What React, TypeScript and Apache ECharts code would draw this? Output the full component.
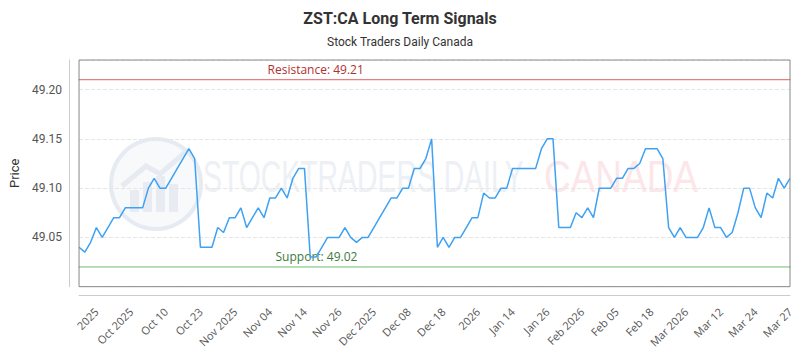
import React, { useEffect, useRef } from "react";
import * as echarts from "echarts";

const prices: number[] = [
  49.04, 49.035, 49.045, 49.06, 49.05, 49.06, 49.07, 49.07, 49.08, 49.08,
  49.08, 49.08, 49.10, 49.11, 49.10, 49.10, 49.11, 49.12, 49.13, 49.14,
  49.13, 49.04, 49.04, 49.04, 49.06, 49.055, 49.07, 49.07, 49.08, 49.06,
  49.07, 49.08, 49.07, 49.09, 49.09, 49.10, 49.09, 49.11, 49.12, 49.12,
  49.03, 49.03, 49.04, 49.05, 49.05, 49.05, 49.06, 49.05, 49.045, 49.05,
  49.05, 49.06, 49.07, 49.08, 49.09, 49.09, 49.10, 49.10, 49.12, 49.12,
  49.13, 49.15, 49.04, 49.05, 49.04, 49.05, 49.05, 49.06, 49.07, 49.07,
  49.095, 49.09, 49.09, 49.10, 49.10, 49.12, 49.12, 49.12, 49.12, 49.12,
  49.14, 49.15, 49.15, 49.06, 49.06, 49.06, 49.075, 49.07, 49.08, 49.07,
  49.10, 49.10, 49.10, 49.11, 49.11, 49.12, 49.12, 49.125, 49.14, 49.14,
  49.14, 49.13, 49.06, 49.05, 49.06, 49.05, 49.05, 49.05, 49.06, 49.08,
  49.06, 49.06, 49.05, 49.055, 49.075, 49.10, 49.10, 49.08, 49.07, 49.095,
  49.09, 49.11, 49.10, 49.11,
];

const tickLabels: string[] = [
  "2025", "Oct 2025", "Oct 10", "Oct 23", "Nov 2025", "Nov 04", "Nov 14",
  "Nov 26", "Dec 2025", "Dec 08", "Dec 18", "2026", "Jan 14", "Jan 26",
  "Feb 2026", "Feb 05", "Feb 18", "Mar 2026", "Mar 12", "Mar 24", "Mar 27",
];

const firstLabelIndex = 3;
const labelStep = 6;

const resistance = 49.21;
const support = 49.02;

const categories: string[] = prices.map((_, i) => "d" + i);

function levelSeries(value: number, text: string, lineColor: string, textColor: string, dx: number) {
  const last = prices.length - 1;
  return {
    type: "line",
    symbol: "circle",
    symbolSize: 1,
    showSymbol: true,
    silent: true,
    z: 2,
    lineStyle: { color: lineColor, width: 1, type: "solid" },
    itemStyle: { color: lineColor },
    data: [
      {
        value: [0, value],
        label: {
          show: true,
          position: "right",
          offset: [dx - 3, -10],
          formatter: text,
          color: textColor,
          fontSize: 12,
          fontFamily: "'Open Sans', sans-serif",
        },
      },
      { value: [last, value] },
    ],
  };
}

export default function App() {
  const ref = useRef<HTMLDivElement>(null);

  useEffect(() => {
    if (!ref.current) return;
    const chart = echarts.init(ref.current, undefined, { renderer: "svg" });
    const font = "Roboto, 'Noto Sans', sans-serif";
    chart.setOption({
      animation: false,
      backgroundColor: "#ffffff",
      textStyle: { fontFamily: font },
      title: {
        text: "ZST:CA Long Term Signals",
        subtext: "Stock Traders Daily Canada",
        left: "center",
        top: 5,
        itemGap: 10,
        textStyle: { fontSize: 16, fontWeight: "bold", color: "#333", fontFamily: font },
        subtextStyle: { fontSize: 12, color: "#333", fontFamily: font },
      },
      graphic: [
        {
          type: "circle",
          z: 0,
          silent: true,
          shape: { cx: 156, cy: 184, r: 45 },
          style: { fill: "#f7f9fb", stroke: "#e6eaf1", lineWidth: 4 },
        },
        { type: "rect", z: 0, silent: true, shape: { x: 130, y: 190, width: 9, height: 22 }, style: { fill: "#e8ecf2" } },
        { type: "rect", z: 0, silent: true, shape: { x: 143, y: 182, width: 9, height: 30 }, style: { fill: "#e8ecf2" } },
        { type: "rect", z: 0, silent: true, shape: { x: 156, y: 176, width: 9, height: 36 }, style: { fill: "#e8ecf2" } },
        { type: "rect", z: 0, silent: true, shape: { x: 169, y: 184, width: 9, height: 28 }, style: { fill: "#e8ecf2" } },
        {
          type: "polyline",
          z: 0,
          silent: true,
          shape: { points: [[122, 186], [146, 166], [160, 174], [188, 150]] },
          style: { stroke: "#e6eaf1", lineWidth: 5, fill: null },
        },
        {
          type: "text",
          z: 0,
          silent: true,
          x: 203,
          y: 177,
          scaleX: 0.645,
          style: {
            text: "STOCKTRADERS DAILY",
            fontSize: 44,
            fontFamily: "'Liberation Sans', Arial, sans-serif",
            fill: "#edf0f5",
            verticalAlign: "middle",
            align: "left",
          },
        },
        {
          type: "text",
          z: 0,
          silent: true,
          x: 544,
          y: 177,
          scaleX: 0.84,
          style: {
            text: "CANADA",
            fontSize: 44,
            fontFamily: "'Liberation Sans', Arial, sans-serif",
            fill: "#fce6e9",
            verticalAlign: "middle",
            align: "left",
          },
        },
      ],
      grid: {
        left: 78,
        right: 10,
        top: 60,
        bottom: 63,
        show: true,
        z: 10,
        borderColor: "#888",
        borderWidth: 1,
        backgroundColor: "transparent",
      },
      xAxis: {
        type: "category",
        data: categories,
        boundaryGap: false,
        offset: 9,
        axisLine: { show: true, lineStyle: { color: "#cccccc" } },
        axisTick: { show: false },
        splitLine: { show: false },
        axisLabel: {
          rotate: 45,
          fontSize: 11,
          color: "#555",
          margin: 14,
          fontFamily: "'Open Sans', sans-serif",
          interval: (index: number) => index % labelStep === firstLabelIndex,
          formatter: (_v: string, index: number) => {
            const k = (index - firstLabelIndex) / labelStep;
            return tickLabels[k] ?? "";
          },
        },
      },
      yAxis: {
        type: "value",
        min: 49.0,
        max: 49.23,
        interval: 0.05,
        offset: 10,
        name: "Price",
        nameLocation: "middle",
        nameGap: 46,
        nameTextStyle: { fontSize: 13, color: "#333" },
        axisLine: { show: true, lineStyle: { color: "#cccccc" } },
        axisTick: { show: false },
        axisLabel: {
          fontSize: 12,
          color: "#555",
          margin: 7,
          showMinLabel: false,
          showMaxLabel: false,
          formatter: (v: number) => v.toFixed(2),
        },
        splitLine: {
          show: true,
          lineStyle: { color: "#e6e6e6", type: "dashed" },
        },
      },
      series: [
        {
          type: "line",
          data: prices,
          symbol: "none",
          z: 3,
          lineStyle: { color: "#3ea1f3", width: 1.5 },
          itemStyle: { color: "#3ea1f3" },
        },
        levelSeries(resistance, "Resistance: " + resistance.toFixed(2), "#e35d5d", "#b03030", 186),
        levelSeries(support, "Support: " + support.toFixed(2), "#6cbf6c", "#3c7a3c", 194),
      ],
    });
    return () => chart.dispose();
  }, []);

  return (
    <div
      ref={ref}
      style={{ position: "fixed", left: 0, top: 0, width: 800, height: 350 }}
    />
  );
}
